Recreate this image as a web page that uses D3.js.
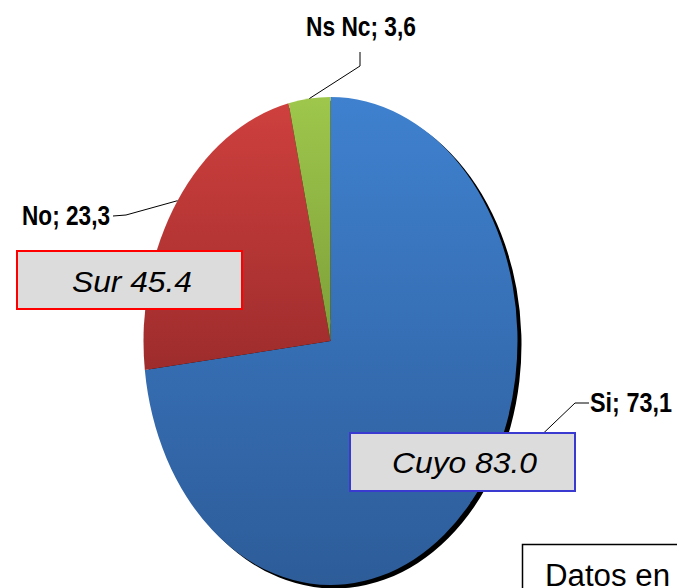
<!DOCTYPE html>
<html>
<head>
<meta charset="utf-8">
<script src="https://cdn.jsdelivr.net/npm/d3@7"></script>
<style>
  html, body { margin: 0; padding: 0; background: #fff; overflow: hidden; }
  svg { display: block; }
</style>
</head>
<body>
<svg id="chart" width="677" height="588"></svg>
<script>
// ---- data ----
const categories = ["Si", "No", "Ns Nc"];
const values = [73.1, 23.3, 3.6];
const regions = ["Sur", "Cuyo"];
const regionValues = [45.4, 83.0];
const noteText = "Datos en";

const colorsTop = ["#3F81CF", "#CE403E", "#9EC74C"];
const colorsBottom = ["#2D5C99", "#9E2C2C", "#7E9F39"];

const svg = d3.select("#chart");
const W = 677, H = 588;
const cx = 330.5, cy = 341, rx = 187, ry = 244;

const defs = svg.append("defs");
categories.forEach((c, i) => {
  const g = defs.append("linearGradient")
    .attr("id", "grad" + i)
    .attr("x1", 0).attr("y1", 0).attr("x2", 0).attr("y2", 1);
  g.append("stop").attr("offset", "0%").attr("stop-color", colorsTop[i]);
  g.append("stop").attr("offset", "100%").attr("stop-color", colorsBottom[i]);
});
const blur = defs.append("filter").attr("id", "shadowBlur")
  .attr("x", "-5%").attr("y", "-5%").attr("width", "110%").attr("height", "110%");
blur.append("feGaussianBlur").attr("stdDeviation", 0.7);

const pie = d3.pie().sort(null).value(d => d)
  .startAngle(0).endAngle(2 * Math.PI);
const arcs = pie(values);
const arc = d3.arc().innerRadius(0).outerRadius(ry);

const sx = rx / ry;

// shadow
svg.append("g")
  .attr("transform", `translate(${cx + 4},${cy + 3.5}) scale(${sx},1)`)
  .attr("filter", "url(#shadowBlur)")
  .selectAll("path").data(arcs).join("path")
  .attr("d", arc).attr("fill", "#000");

// slices
svg.append("g")
  .attr("transform", `translate(${cx},${cy}) scale(${sx},1)`)
  .selectAll("path").data(arcs).join("path")
  .attr("d", arc)
  .attr("fill", (d, i) => `url(#grad${i})`);

// label anchors (layout)
const labelLayout = [
  { x: 631, y: 412, pts: [[589, 403], [575, 403]], w: 82 },   // Si
  { x: 66, y: 225, pts: [[113, 216], [126, 215]], w: 88 },    // No
  { x: 361, y: 36, pts: [[360, 52], [360, 66]], w: 110 }      // Ns Nc
];

const fmt = v => d3.format(".1f")(v).replace(".", ",");

arcs.forEach((a, i) => {
  const mid = (a.startAngle + a.endAngle) / 2;
  const ex = cx + rx * Math.sin(mid);
  const ey = cy - ry * Math.cos(mid);
  const L = labelLayout[i];
  const pts = L.pts.concat([[ex, ey]]);
  svg.append("path")
    .attr("d", d3.line()(pts))
    .attr("fill", "none")
    .attr("stroke", "#000")
    .attr("stroke-width", 1);
  svg.append("text")
    .attr("x", L.x).attr("y", L.y)
    .attr("text-anchor", "middle")
    .attr("font-family", "'Liberation Sans Narrow', 'Arial Narrow', 'Liberation Sans', Arial, sans-serif")
    .attr("font-weight", "bold")
    .attr("font-size", 28)
    .attr("textLength", L.w)
    .attr("lengthAdjust", "spacingAndGlyphs")
    .attr("fill", "#000")
    .text(categories[i] + "; " + fmt(values[i]));
});

// region boxes
const boxLayout = [
  { x: 17, y: 251, w: 225, h: 58, stroke: "#FF0000", tx: 132, ty: 292, tw: 120 },
  { x: 350, y: 433, w: 225, h: 58, stroke: "#3A3AD0", tx: 464.5, ty: 473, tw: 145 }
];
regions.forEach((r, i) => {
  const B = boxLayout[i];
  svg.append("rect")
    .attr("x", B.x).attr("y", B.y).attr("width", B.w).attr("height", B.h)
    .attr("fill", "#DCDCDC")
    .attr("stroke", B.stroke).attr("stroke-width", 2);
  svg.append("text")
    .attr("x", B.tx).attr("y", B.ty)
    .attr("text-anchor", "middle")
    .attr("font-family", "'Liberation Sans', Arial, sans-serif")
    .attr("font-style", "italic")
    .attr("font-size", 30)
    .attr("textLength", B.tw)
    .attr("lengthAdjust", "spacingAndGlyphs")
    .attr("fill", "#000")
    .text(r + " " + d3.format(".1f")(regionValues[i]));
});

// note box (clipped by window edge)
svg.append("rect")
  .attr("x", 522.5).attr("y", 544.5).attr("width", 200).attr("height", 100)
  .attr("fill", "#fff").attr("stroke", "#000").attr("stroke-width", 1.5);
svg.append("text")
  .attr("x", 545).attr("y", 586)
  .attr("font-family", "'Liberation Sans', Arial, sans-serif")
  .attr("font-size", 31)
  .attr("textLength", 125)
  .attr("lengthAdjust", "spacingAndGlyphs")
  .attr("fill", "#000")
  .text(noteText);
</script>
</body>
</html>
